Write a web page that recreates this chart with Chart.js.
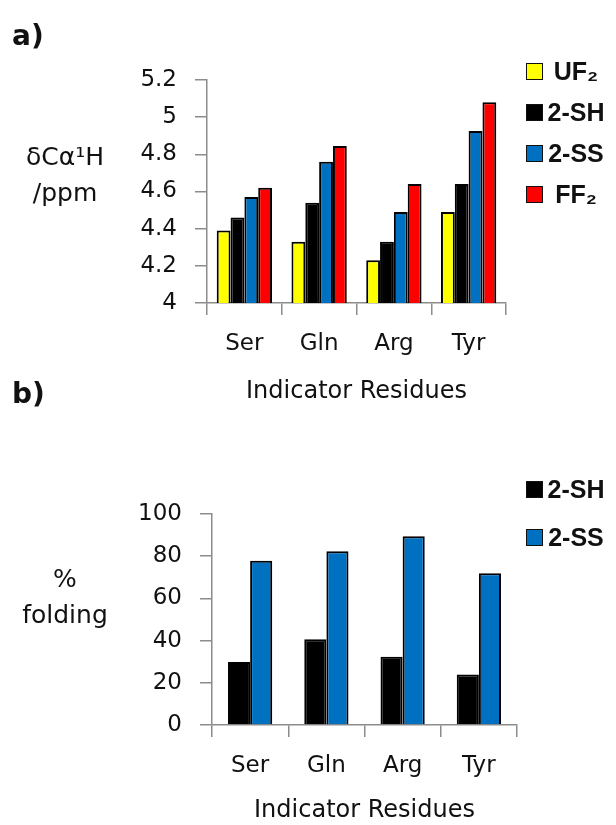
<!DOCTYPE html>
<html>
<head>
<meta charset="utf-8">
<script src="https://cdn.jsdelivr.net/npm/chart.js"></script>
<style>
  body { margin: 0; background: #fff; font-family: 'DejaVu Sans', sans-serif; color: #111; }
  #page { position: relative; width: 616px; height: 825px; overflow: hidden; }
  canvas { position: absolute; left: 0; }
  .tag { position: absolute; left: 12px; font-weight: bold; font-size: 28px; line-height: 28px; }
  .ytitle { position: absolute; left: 0; width: 130px; text-align: center; font-size: 25px; line-height: 36px; }
  .legend { position: absolute; left: 526px; font-family: 'Liberation Sans', sans-serif; font-weight: bold; font-size: 25px; }
  .legend .item { display: flex; align-items: center; }
  .legend .box { width: 15px; height: 15px; border: 1.5px solid #111; }
  .legend .txt { width: 66px; text-align: center; }
</style>
</head>
<body>
<div id="page">
  <canvas id="shiftChart" width="616" height="413" style="top:0"></canvas>
  <canvas id="foldChart" width="616" height="412" style="top:413px"></canvas>

  <div class="tag" style="top:22px">a)</div>
  <div class="tag" style="top:380px">b)</div>

  <div class="ytitle" style="top:139px">δCα¹H<br>/ppm</div>
  <div class="ytitle" style="top:561px">%<br>folding</div>

  <div class="legend" id="shiftLegend" style="top:51px"></div>
  <div class="legend" id="foldLegend" style="top:465px"></div>
</div>

<script>
// indicator residues on the x axis
const residues = ['Ser', 'Gln', 'Arg', 'Tyr'];

// a) chemical shift, ppm
const shiftUF2 = [4.39, 4.33, 4.23, 4.49];
const shift2SH = [4.46, 4.54, 4.33, 4.64];
const shift2SS = [4.57, 4.76, 4.49, 4.925];
const shiftFF2 = [4.62, 4.845, 4.64, 5.08];
const shiftTicks = [4, 4.2, 4.4, 4.6, 4.8, 5, 5.2];

// b) percent folding
const fold2SH = [29.8, 40.6, 32.3, 23.9];
const fold2SS = [77.8, 82.4, 89.4, 71.9];
const foldTicks = [0, 20, 40, 60, 80, 100];

const YELLOW = '#ffff00', BLACK = '#000000', BLUE = '#0070c0', RED = '#ff0000';
const AXIS = '#8c8c8c', TEXT = '#111111';

Chart.defaults.font.family = "'DejaVu Sans', sans-serif";
Chart.defaults.color = TEXT;

function bars(label, data, color) {
    return { label: label, data: data, backgroundColor: color, borderColor: '#000', borderWidth: 2 };
}

function yAxis(ticks, width) {
    return {
        min: ticks[0],
        max: ticks[ticks.length - 1],
        afterBuildTicks: s => { s.ticks = ticks.map(v => ({ value: v })); },
        afterFit: s => { s.width = width; },
        grid: { drawOnChartArea: false, tickLength: 12, color: AXIS, lineWidth: 1.5 },
        border: { color: AXIS, width: 1.5 },
        ticks: { padding: 18, font: { size: 23 }, callback: v => String(v) }
    };
}

function xAxis(height, titlePad) {
    return {
        afterFit: s => { s.height = height; },
        grid: { offset: true, drawOnChartArea: false, tickLength: 12, color: AXIS, lineWidth: 1.5 },
        border: { color: AXIS, width: 1.5 },
        ticks: { padding: 15, font: { size: 23 } },
        title: { display: true, text: 'Indicator Residues', font: { size: 24 }, padding: { top: 0, bottom: titlePad } }
    };
}

function makeChart(id, datasets, catPct, yAx, xAx, padding) {
    return new Chart(document.getElementById(id), {
        type: 'bar',
        data: { labels: residues, datasets: datasets },
        options: {
            responsive: false,
            animation: false,
            layout: { padding: padding },
            datasets: { bar: { categoryPercentage: catPct, barPercentage: 1.0 } },
            scales: { x: xAx, y: yAx },
            plugins: { legend: { display: false }, tooltip: { enabled: false } }
        }
    });
}

// simple html legend so the subscripts look right
function buildLegend(elId, chart, rowHeight) {
    const el = document.getElementById(elId);
    chart.data.datasets.forEach(ds => {
        const row = document.createElement('div');
        row.className = 'item';
        row.style.height = rowHeight + 'px';
        const box = document.createElement('span');
        box.className = 'box';
        box.style.background = ds.backgroundColor;
        const txt = document.createElement('span');
        txt.className = 'txt';
        txt.textContent = ds.label;
        row.appendChild(box);
        row.appendChild(txt);
        el.appendChild(row);
    });
}

const shiftChart = makeChart('shiftChart', [
    bars('UF₂', shiftUF2, YELLOW),
    bars('2-SH', shift2SH, BLACK),
    bars('2-SS', shift2SS, BLUE),
    bars('FF₂', shiftFF2, RED)
], 0.74, yAxis(shiftTicks, 207), xAxis(110, 7), { left: 0, right: 110, top: 80, bottom: 0 });

const foldChart = makeChart('foldChart', [
    bars('2-SH', fold2SH, BLACK),
    bars('2-SS', fold2SS, BLUE)
], 0.58, yAxis(foldTicks, 212), xAxis(100, 0), { left: 0, right: 99, top: 101, bottom: 0 });

buildLegend('shiftLegend', shiftChart, 41);
buildLegend('foldLegend', foldChart, 48);
</script>
</body>
</html>
